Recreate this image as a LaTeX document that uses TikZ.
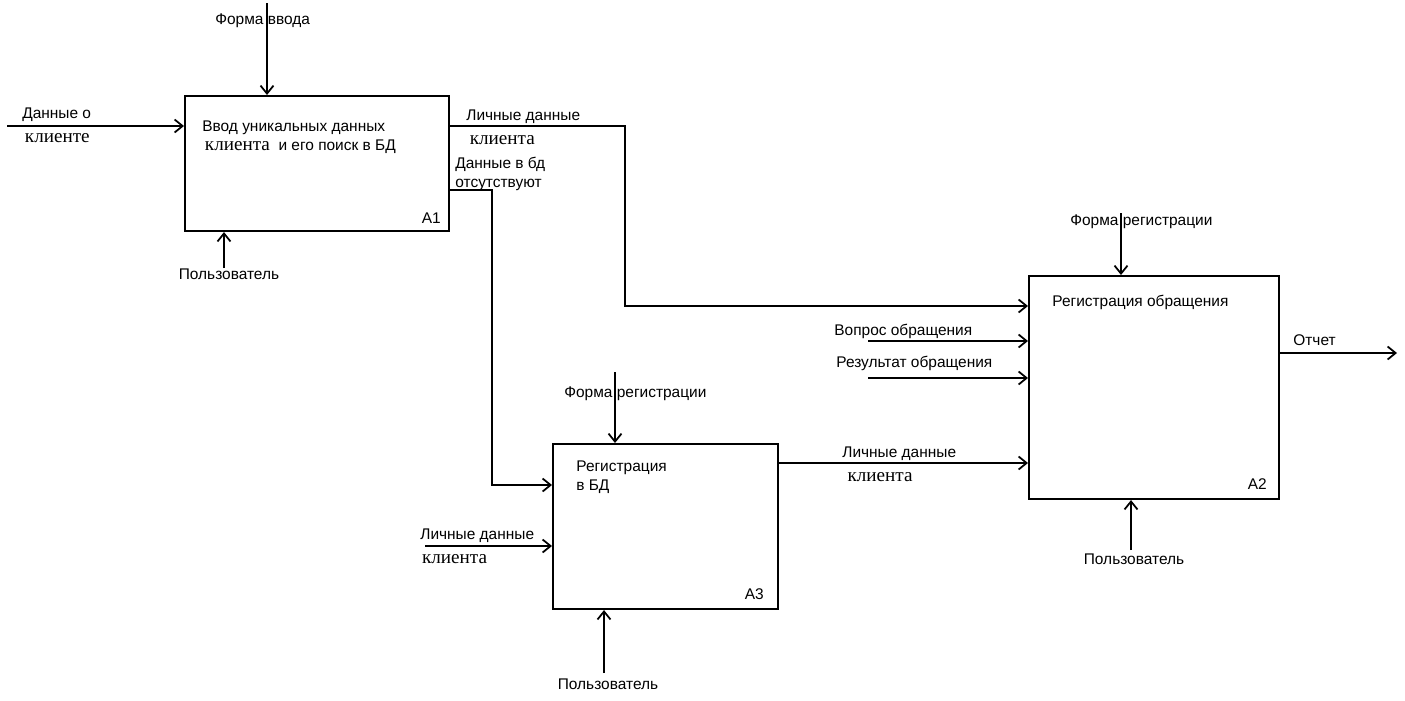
\documentclass[tikz,border=0pt]{standalone}
\usepackage{fontspec}
\setmainfont{Liberation Serif}
\setsansfont{Liberation Sans}
\usetikzlibrary{arrows.meta,positioning}
\newcommand\serifword[1]{{\rmfamily\fontsize{10.9}{11.2}\selectfont #1}}
\newcommand\seriflow[1]{\raisebox{-2.2pt}{\serifword{#1}}}
\tikzset{func box/.style={rectangle,draw,line width=1.2pt,inner sep=0pt,anchor=north west},
         flow/.style={-{Straight Barb[length=1.6mm,width=2.6mm,line width=1pt]},line width=1pt},
         flow line/.style={line width=1pt},
         arrow label/.style={inner sep=0pt,anchor=north west,align=left,
                             font=\sffamily\fontsize{8.8}{11.2}\selectfont},
         box text/.style={arrow label,font=\sffamily\fontsize{8.8}{10.4}\selectfont},
         box num/.style={inner sep=0pt,anchor=south east,font=\sffamily\fontsize{8.8}{10}\selectfont}
}

\begin{document}
\begin{tikzpicture}[x=0.02cm,y=-0.02cm]
\useasboundingbox (0,0) rectangle (1405,700);
% function boxes
\node[func box,minimum width=5.28cm,minimum height=2.7cm] (a1) at (184,95) {};
\node[func box,minimum width=5cm,minimum height=4.46cm] (a2) at (1028,275) {};
\node[func box,minimum width=4.5cm,minimum height=3.3cm] (a3) at (552,443) {};
\node[box text] (t1) at (202,121) {Ввод уникальных данных\\\hspace{1.5pt}\serifword{клиента}\ \ и его поиск в БД};
\node[box text] (t2) at (1052,295) {Регистрация обращения};
\node[box text] (t3) at (576,461) {Регистрация\\в БД};
\node[box num] (n1) at ([xshift=-0.18cm,yshift=0.16cm]a1.south east) {A1};
\node[box num] (n2) at ([xshift=-0.26cm,yshift=0.2cm]a2.south east) {A2};
\node[box num] (n3) at ([xshift=-0.3cm,yshift=0.2cm]a3.south east) {A3};

% free ends
\coordinate (din) at (7,126);
\coordinate (fvv) at (267,3);
\coordinate (us1) at (224,268);
\coordinate (fr3) at (615,372);
\coordinate (ld3) at (425,546);
\coordinate (us3) at (604,673);
\coordinate (fr2) at (1121,213);
\coordinate (vo2) at (868,341);
\coordinate (re2) at (868,378);
\coordinate (us2) at (1131,550);
\coordinate (otc) at (1397,353);

% A1
\draw[flow] (din) -- (din -| a1.west);
\draw[flow] (fvv) -- (fvv |- a1.north);
\draw[flow] (us1) -- (us1 |- a1.south);
\draw[flow] (a1.east |- 0,126) -- (625,126) |- (a2.west |- 0,306);
\draw[flow] (a1.east |- 0,190) -- (492,190) |- (a3.west |- 0,485);
% A3
\draw[flow] (fr3) -- (fr3 |- a3.north);
\draw[flow] (ld3) -- (ld3 -| a3.west);
\draw[flow] (us3) -- (us3 |- a3.south);
\draw[flow] (a3.east |- 0,463) -- (a2.west |- 0,463);
% A2
\draw[flow] (fr2) -- (fr2 |- a2.north);
\draw[flow] (vo2) -- (vo2 -| a2.west);
\draw[flow] (re2) -- (re2 -| a2.west);
\draw[flow] (us2) -- (us2 |- a2.south);
\draw[flow] (a2.east |- 0,353) -- (otc);

% labels
\node[arrow label] (l1) at (22,108) {Данные о\\\hspace{1.5pt}\seriflow{клиенте}};
\node[arrow label] (l2) at (215,13) {Форма ввода};
\node[arrow label,anchor=center] (l3) at (229,274) {Пользователь};
\node[arrow label] (l4) at (466,110) {Личные данные\\\hspace{2pt}\seriflow{клиента}};
\node[arrow label,font=\sffamily\fontsize{8.8}{10.6}\selectfont] (l5) at (455,157) {Данные в бд\\отсутствуют};
\node[arrow label] (l6) at (564,386) {Форма регистрации};
\node[arrow label] (l7) at (420,529) {Личные данные\\\hspace{1pt}\seriflow{клиента}};
\node[arrow label,anchor=center] (l8) at (608,684) {Пользователь};
\node[arrow label] (l9) at (842,447) {Личные данные\\\hspace{3pt}\seriflow{клиента}};
\node[arrow label] (l10) at (1070,214) {Форма регистрации};
\node[arrow label] (l11) at (834,324) {Вопрос обращения};
\node[arrow label] (l12) at (836,356) {Результат обращения};
\node[arrow label] (l13) at (1293,334) {Отчет};
\node[arrow label,anchor=center] (l14) at (1134,559) {Пользователь};
\end{tikzpicture}
\end{document}
